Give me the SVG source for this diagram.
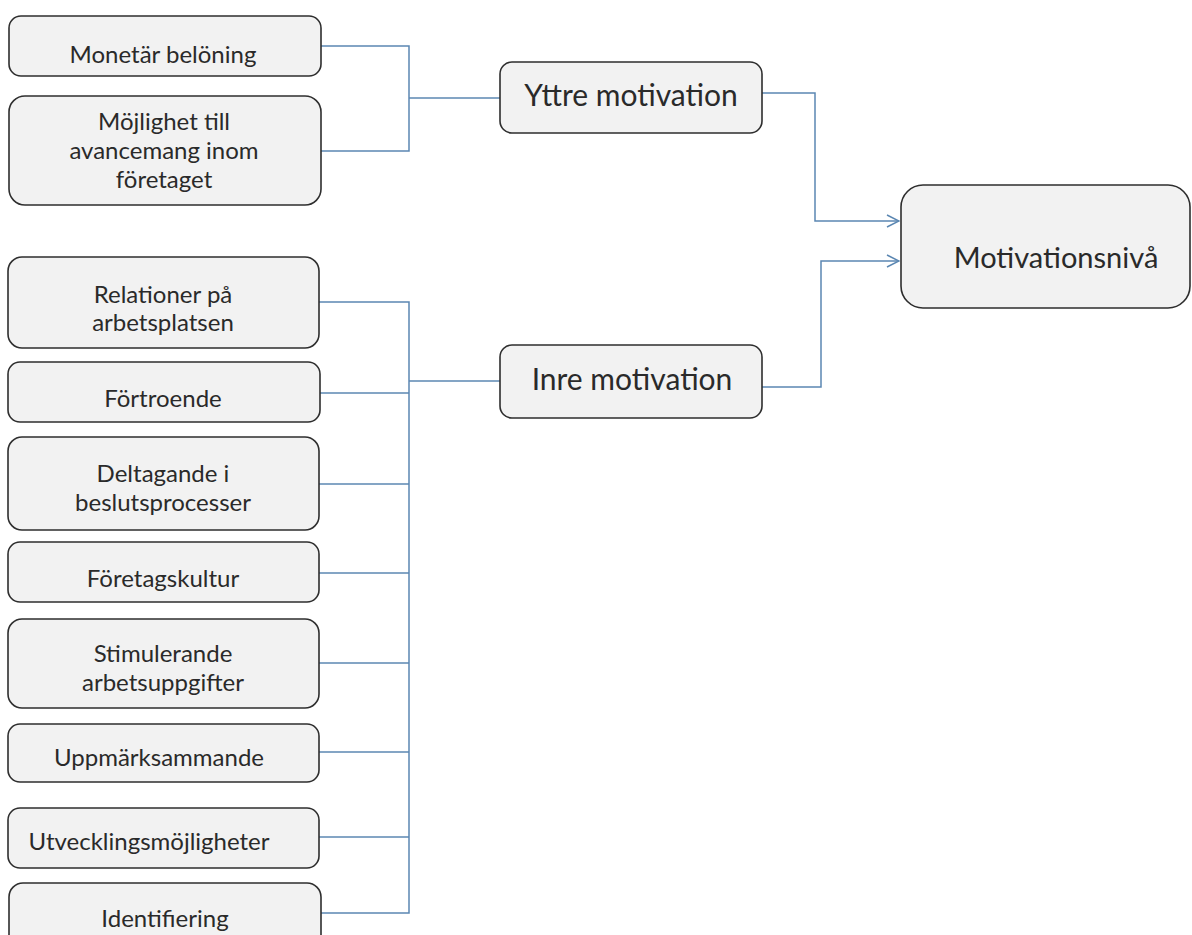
<svg xmlns="http://www.w3.org/2000/svg" width="1192" height="935" viewBox="0 0 1192 935">
<defs>
<style>
.box{fill:#f2f2f2;stroke:#2e2e2e;stroke-width:1.6}
.t{font-family:Lato,"Liberation Sans",sans-serif;font-size:24px;fill:#2a2a2a;text-anchor:middle}
.tb{font-family:Lato,"Liberation Sans",sans-serif;font-size:30px;fill:#2a2a2a;text-anchor:middle}
.c{fill:none;stroke:#5b87b2;stroke-width:1.5}
</style>
<marker id="arr" viewBox="0 0 14 14" refX="13" refY="7" markerWidth="14" markerHeight="14" markerUnits="userSpaceOnUse" orient="auto">
<path d="M1,1 L13,7 L1,13" fill="none" stroke="#5b87b2" stroke-width="1.5"/>
</marker>
</defs>
<rect width="1192" height="935" fill="#ffffff"/>
<g id="connectors">
<path class="c" d="M321,46 H409 V151 H321"/>
<path class="c" d="M409,98 H500"/>
<path class="c" d="M319,302 H409 V913 H321"/>
<path class="c" d="M320,393 H409"/>
<path class="c" d="M319,484 H409"/>
<path class="c" d="M319,573 H409"/>
<path class="c" d="M319,663 H409"/>
<path class="c" d="M319,752 H409"/>
<path class="c" d="M319,837 H409"/>
<path class="c" d="M409,381 H500"/>
<path class="c" d="M762,93 H815 V221 H899" marker-end="url(#arr)"/>
<path class="c" d="M762,387 H821 V261 H899" marker-end="url(#arr)"/>
</g>
<g id="n-monetar"><rect class="box" x="9" y="16" width="312" height="60" rx="12"/><text class="t" x="163" y="63">Monetär belöning</text></g>
<g id="n-mojlighet"><rect class="box" x="9" y="96" width="312" height="109" rx="16"/><text class="t" x="164" y="130">Möjlighet till</text><text class="t" x="164" y="159">avancemang inom</text><text class="t" x="164" y="188">företaget</text></g>
<g id="n-yttre"><rect class="box" x="500" y="62" width="262" height="71" rx="12"/><text class="tb" x="631" y="106">Yttre motivation</text></g>
<g id="n-inre"><rect class="box" x="500" y="345" width="262" height="73" rx="12"/><text class="tb" x="632" y="390">Inre motivation</text></g>
<g id="n-niva"><rect class="box" x="901" y="185" width="289" height="123" rx="22"/><text class="tb" x="1056" y="268" style="font-size:29px">Motivationsnivå</text></g>
<g id="n-relationer"><rect class="box" x="8" y="257" width="311" height="91" rx="14"/><text class="t" x="163" y="303">Relationer på</text><text class="t" x="163" y="331">arbetsplatsen</text></g>
<g id="n-fortroende"><rect class="box" x="8" y="362" width="312" height="60" rx="12"/><text class="t" x="163" y="407">Förtroende</text></g>
<g id="n-deltagande"><rect class="box" x="8" y="437" width="311" height="93" rx="14"/><text class="t" x="163" y="482">Deltagande i</text><text class="t" x="163" y="511">beslutsprocesser</text></g>
<g id="n-foretagskultur"><rect class="box" x="8" y="542" width="311" height="60" rx="12"/><text class="t" x="163" y="587">Företagskultur</text></g>
<g id="n-stimulerande"><rect class="box" x="8" y="619" width="311" height="89" rx="14"/><text class="t" x="163" y="662">Stimulerande</text><text class="t" x="163" y="691">arbetsuppgifter</text></g>
<g id="n-uppmarksammande"><rect class="box" x="8" y="724" width="311" height="58" rx="12"/><text class="t" x="159" y="766">Uppmärksammande</text></g>
<g id="n-utveckling"><rect class="box" x="8" y="808" width="311" height="60" rx="12"/><text class="t" x="149" y="850">Utvecklingsmöjligheter</text></g>
<g id="n-identifiering"><rect class="box" x="9" y="883" width="312" height="80" rx="14"/><text class="t" x="165" y="927">Identifiering</text></g>
</svg>
